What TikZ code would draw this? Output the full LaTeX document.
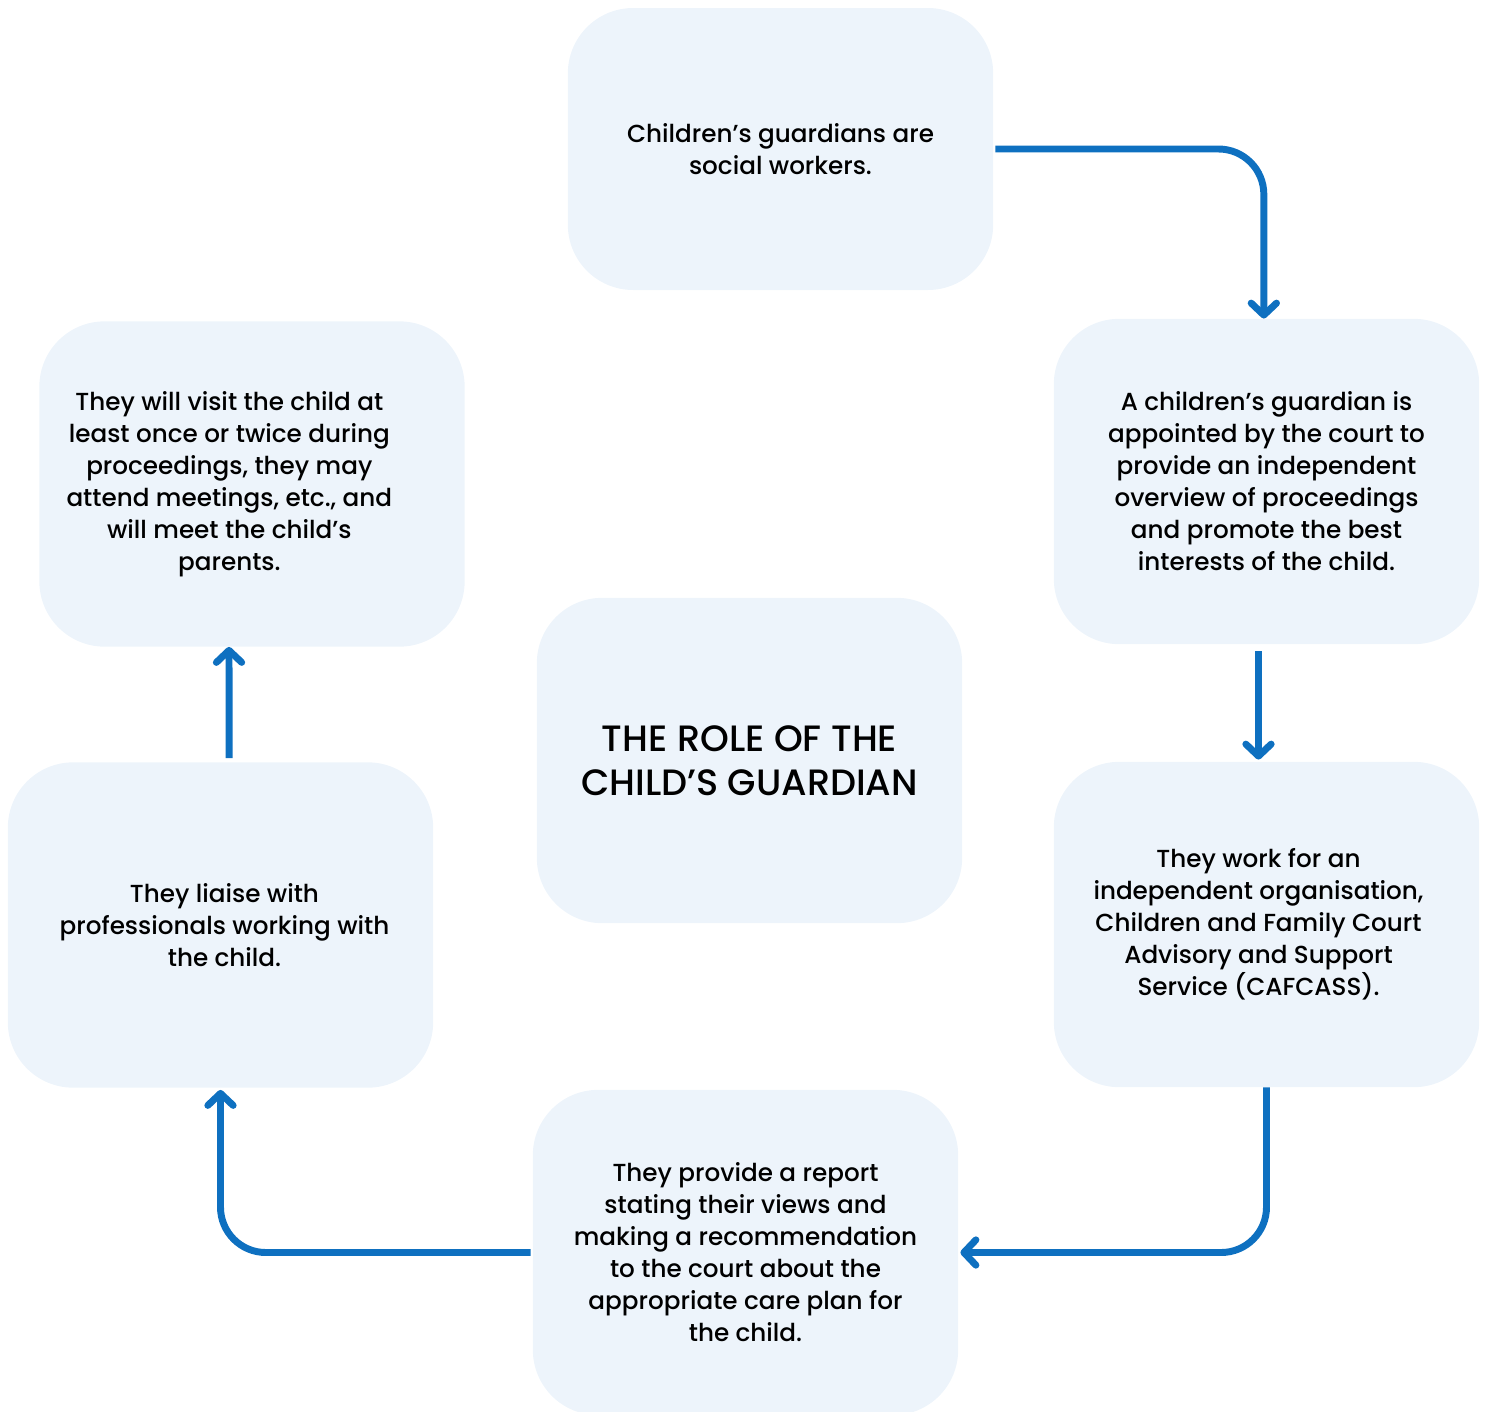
\documentclass[tikz,border=0pt]{standalone}
\usepackage{fontspec}
\setmainfont{Poppins}[UprightFont=* Medium]
\usetikzlibrary{arrows.meta}

\definecolor{boxfill}{RGB}{237,244,251}
\definecolor{flowblue}{RGB}{14,112,192}

\tikzset{
  stepbox/.style={fill=boxfill, rounded corners=49pt, minimum width=319pt, minimum height=244pt,
    align=center, font=\fontsize{18.5pt}{24pt}\selectfont, text=black, inner sep=0pt},
  steptext/.style={align=center, font=\fontsize{18.5pt}{24pt}\selectfont, text=black, inner sep=0pt},
  flow/.style={draw=flowblue, line width=5.2pt, rounded corners=34pt,
    -{Straight Barb[length=9pt,width=19pt,round]}},
}

\begin{document}
\begin{tikzpicture}[x=0.75pt,y=0.75pt,yscale=-1,xscale=1]
\useasboundingbox (0,0) rectangle (1489,1411);

%Boxes
\begin{scope}
\clip (0,0) rectangle (1489,1411);
\node[stepbox, minimum height=211.5pt] (social) at (780.5,149) {Children’s guardians are\\social workers.};
\node[stepbox] (appoint) at (1266.5,481.5) {A children’s guardian is\\appointed by the court to\\provide an independent\\overview of proceedings\\and promote the best\\interests of the child.};
\node[stepbox, label={[steptext, xshift=-6pt]center:{They work for an\\independent organisation,\\Children and Family Court\\Advisory and Support\\Service (CAFCASS).}}] (cafcass) at (1266.5,924.5) {};
\node[stepbox] (report) at (745.5,1252.5) {They provide a report\\stating their views and\\making a recommendation\\to the court about the\\appropriate care plan for\\the child.};
\node[stepbox, label={[steptext, xshift=3pt]center:{They liaise with\\professionals working with\\the child.}}] (liaise) at (220.5,925) {};
\node[stepbox, label={[steptext, xshift=-17pt]center:{They will visit the child at\\least once or twice during\\proceedings, they may\\attend meetings, etc., and\\will meet the child’s\\parents.}}] (visit) at (252,484) {};
\node[stepbox, font=\fontsize{27.5pt}{33pt}\selectfont] (role) at (749.5,760.5) {THE ROLE OF THE\\CHILD’S GUARDIAN};
\end{scope}

%Arrows
\draw[flow] ([xshift=1.5pt]social.east) -| ([xshift=-2pt]appoint.north);
\draw[flow, rounded corners=0pt] ([xshift=-6pt,yshift=5pt]appoint.south) -- ([xshift=-6pt,yshift=-1.5pt]cafcass.north);
\draw[flow] (cafcass.south) |- ([xshift=1.5pt]report.east);
\draw[flow] ([xshift=-1.5pt]report.west) -| ([yshift=1.5pt]liaise.south);
\draw[flow, rounded corners=0pt] ([xshift=6.5pt,yshift=-3pt]liaise.north) -- ([xshift=-17.25pt]visit.south);

\end{tikzpicture}
\end{document}
